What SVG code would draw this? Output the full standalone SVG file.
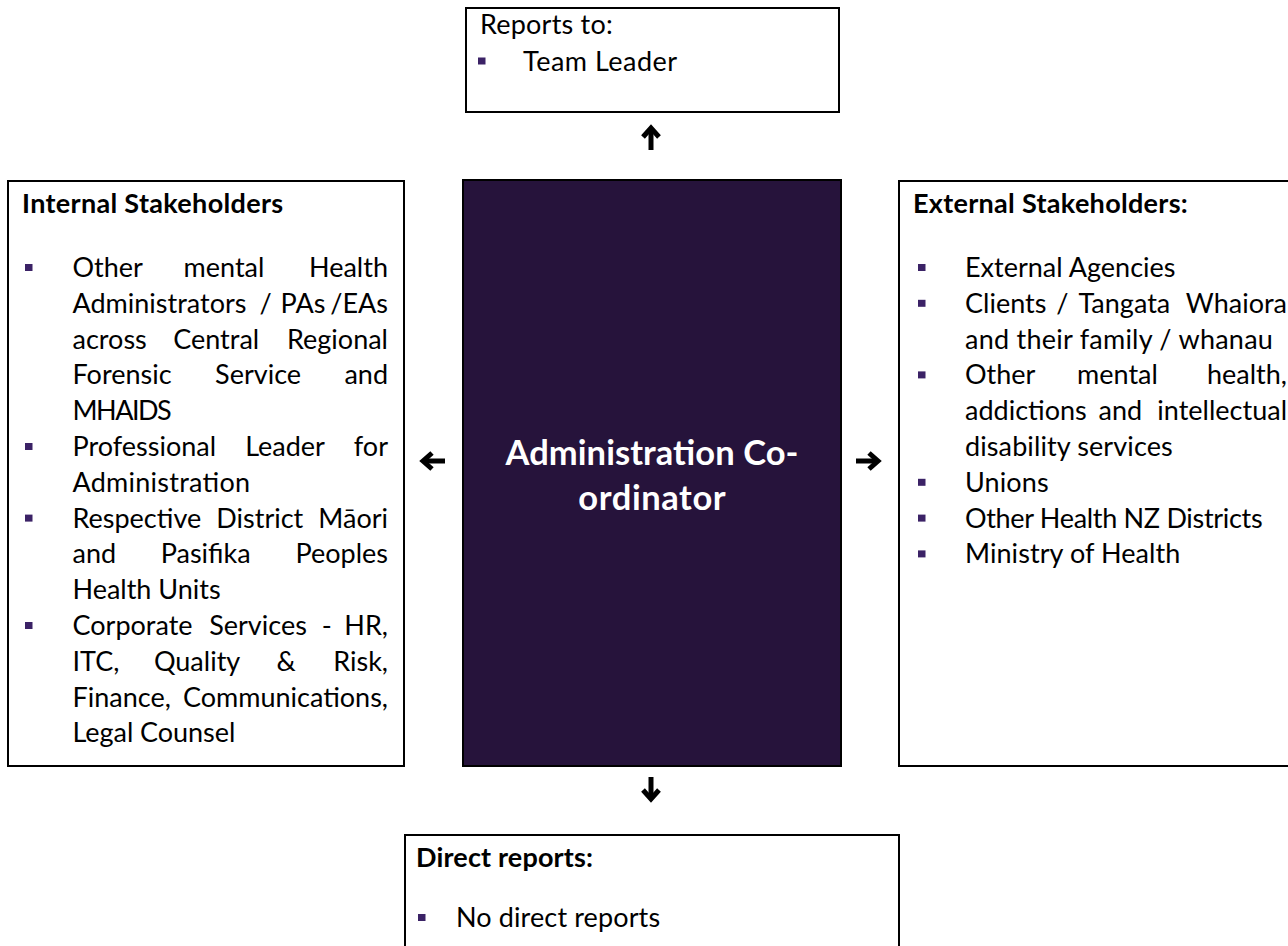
<svg xmlns="http://www.w3.org/2000/svg" xmlns:xlink="http://www.w3.org/1999/xlink" width="1288" height="946" viewBox="0 0 1288 946">
  <style>
    .box { fill: #ffffff; stroke: #000000; stroke-width: 2; }
    .core { fill: #26133b; stroke: #000000; stroke-width: 2; }
    .t { font-family: Lato, "Liberation Sans", sans-serif; font-size: 27px; fill: #000000; }
    .h { font-family: Lato, "Liberation Sans", sans-serif; font-size: 27px; font-weight: bold; fill: #000000; }
    .c { font-family: Lato, "Liberation Sans", sans-serif; font-size: 34.5px; font-weight: bold; fill: #ffffff; text-anchor: middle; }
    .b { fill: #3b2266; }
    .arr { fill: none; stroke: #000000; stroke-width: 5; stroke-linejoin: miter; stroke-linecap: butt; }
  </style>
  <defs>
    <g id="arrowUp">
      <path class="arr" d="M0,12 L0,-9"/>
      <path class="arr" d="M-8,-1 L0,-10 L8,-1"/>
    </g>
  </defs>
  <rect width="1288" height="946" fill="#ffffff"/>

  <g id="reports-to">
    <rect class="box" x="466" y="8" width="373" height="104"/>
    <text class="t" x="480" y="33.5" textLength="132.7">Reports to:</text>
    <rect class="b" x="478" y="57.5" width="7.5" height="7"/>
    <text class="t" x="523" y="70.5" textLength="154.2">Team Leader</text>
  </g>

  <g id="internal-stakeholders">
    <rect class="box" x="8" y="181" width="396" height="585"/>
    <text class="h" x="22" y="213" textLength="261.1">Internal Stakeholders</text>
    <rect class="b" x="25" y="264" width="7.5" height="7"/>
    <text class="t" y="277"><tspan x="72.5">Other</tspan> <tspan x="183.6">mental</tspan> <tspan x="388" text-anchor="end">Health</tspan></text>
    <text class="t" y="312.8"><tspan x="72.5">Administrators</tspan> <tspan x="259.5">/</tspan> <tspan x="280.6">PAs</tspan> <tspan x="388" text-anchor="end">/EAs</tspan></text>
    <text class="t" y="348.6"><tspan x="72.5">across</tspan> <tspan x="173.2">Central</tspan> <tspan x="388" text-anchor="end">Regional</tspan></text>
    <text class="t" y="384.4"><tspan x="72.5">Forensic</tspan> <tspan x="215.1">Service</tspan> <tspan x="388" text-anchor="end">and</tspan></text>
    <text class="t" x="72.5" y="420.2" textLength="99.2">MHAIDS</text>
    <rect class="b" x="25" y="443" width="7.5" height="7"/>
    <text class="t" y="456"><tspan x="72.5">Professional</tspan> <tspan x="245.2">Leader</tspan> <tspan x="388" text-anchor="end">for</tspan></text>
    <text class="t" x="72.5" y="491.8" textLength="177.6">Administration</text>
    <rect class="b" x="25" y="514.6" width="7.5" height="7"/>
    <text class="t" y="527.6"><tspan x="72.5">Respective</tspan> <tspan x="216.3">District</tspan> <tspan x="388" text-anchor="end">Māori</tspan></text>
    <text class="t" y="563.4"><tspan x="72.5">and</tspan> <tspan x="160.7">Pasifika</tspan> <tspan x="388" text-anchor="end">Peoples</tspan></text>
    <text class="t" x="72.5" y="599.2" textLength="148.1">Health Units</text>
    <rect class="b" x="25" y="622" width="7.5" height="7"/>
    <text class="t" y="635"><tspan x="72.5">Corporate</tspan> <tspan x="209.2">Services</tspan> <tspan x="321.8">-</tspan> <tspan x="388" text-anchor="end">HR,</tspan></text>
    <text class="t" y="670.8"><tspan x="72.5">ITC,</tspan> <tspan x="153.9">Quality</tspan> <tspan x="276.4">&amp;</tspan> <tspan x="388" text-anchor="end">Risk,</tspan></text>
    <text class="t" y="706.6"><tspan x="72.5">Finance,</tspan> <tspan x="388" text-anchor="end">Communications,</tspan></text>
    <text class="t" x="72.5" y="742.4" textLength="162.8">Legal Counsel</text>
  </g>

  <g id="administration-coordinator">
    <rect class="core" x="463" y="180" width="378" height="586"/>
    <text class="c" x="652" y="465" textLength="292.9">Administration Co-</text>
    <text class="c" x="652" y="510" textLength="147.3">ordinator</text>
  </g>

  <g id="external-stakeholders">
    <rect class="box" x="899" y="181" width="400" height="585"/>
    <text class="h" x="913" y="213" textLength="274.8">External Stakeholders:</text>
    <rect class="b" x="918" y="264" width="7.5" height="7"/>
    <text class="t" x="965" y="277" textLength="210.5">External Agencies</text>
    <rect class="b" x="918" y="299.8" width="7.5" height="7"/>
    <text class="t" y="312.8"><tspan x="965">Clients</tspan> <tspan x="1056.3">/</tspan> <tspan x="1078.5">Tangata</tspan> <tspan x="1287" text-anchor="end">Whaiora</tspan></text>
    <text class="t" x="965" y="348.6" textLength="307.9">and their family / whanau</text>
    <rect class="b" x="918" y="371.4" width="7.5" height="7"/>
    <text class="t" y="384.4"><tspan x="965">Other</tspan> <tspan x="1077.1">mental</tspan> <tspan x="1287" text-anchor="end">health,</tspan></text>
    <text class="t" y="420.2"><tspan x="965">addictions</tspan> <tspan x="1098.5">and</tspan> <tspan x="1287" text-anchor="end">intellectual</tspan></text>
    <text class="t" x="965" y="456" textLength="207.7">disability services</text>
    <rect class="b" x="918" y="478.8" width="7.5" height="7"/>
    <text class="t" x="965" y="491.8" textLength="83.6">Unions</text>
    <rect class="b" x="918" y="514.6" width="7.5" height="7"/>
    <text class="t" x="965" y="527.6" textLength="297.6">Other Health NZ Districts</text>
    <rect class="b" x="918" y="550.4" width="7.5" height="7"/>
    <text class="t" x="965" y="563.4" textLength="215.3">Ministry of Health</text>
  </g>

  <g id="direct-reports">
    <rect class="box" x="405" y="835" width="494" height="120"/>
    <text class="h" x="416" y="867" textLength="177">Direct reports:</text>
    <rect class="b" x="418" y="914" width="7.5" height="7"/>
    <text class="t" x="456" y="927" textLength="204.1">No direct reports</text>
  </g>

  <g id="connectors">
    <use xlink:href="#arrowUp" transform="translate(651,138)"/>
    <use xlink:href="#arrowUp" transform="translate(651,789) rotate(180)"/>
    <use xlink:href="#arrowUp" transform="translate(433,461) rotate(-90)"/>
    <use xlink:href="#arrowUp" transform="translate(868,461) rotate(90)"/>
  </g>
</svg>
